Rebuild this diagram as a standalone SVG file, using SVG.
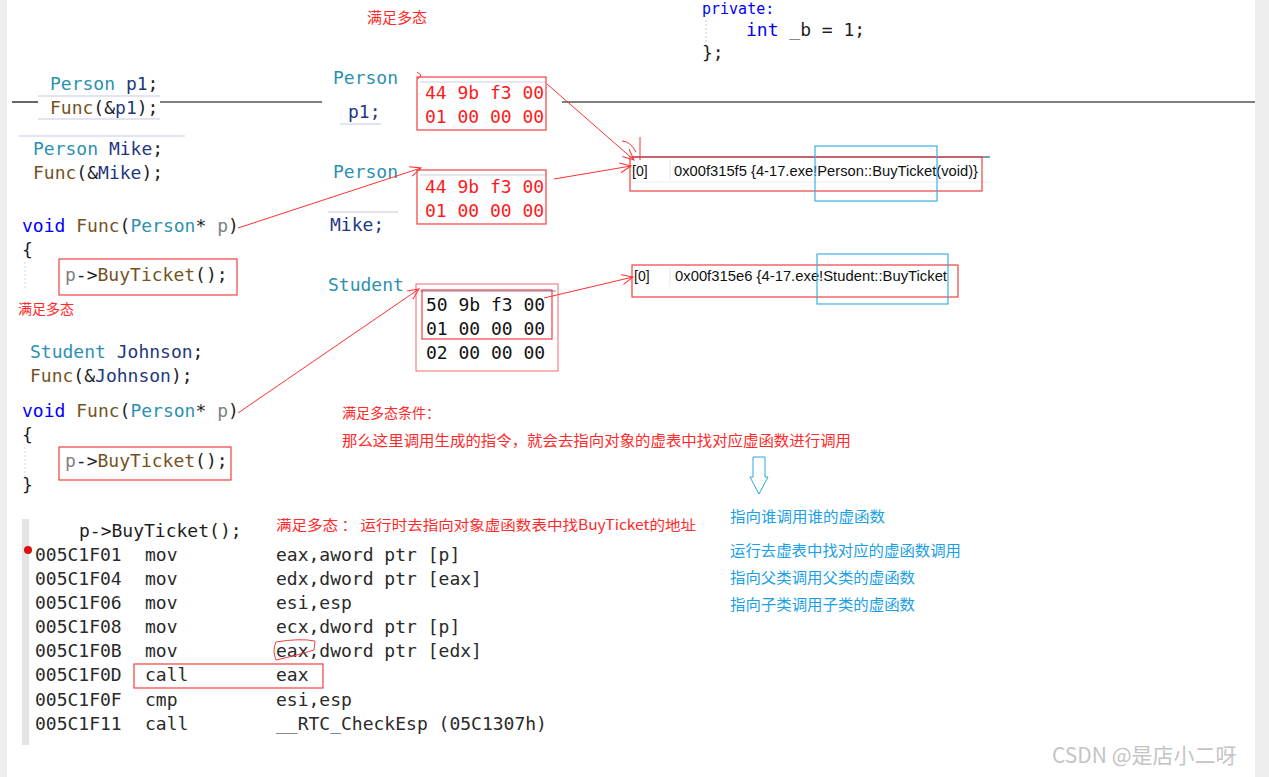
<svg xmlns="http://www.w3.org/2000/svg" width="1269" height="777" viewBox="0 0 1269 777">
<defs>
<style>
.code{font-family:"DejaVu Sans Mono","Liberation Mono",monospace;font-size:18px;fill:#1e1e1e}
.ty{fill:#2b91af}.var{fill:#1f377f}.fn{fill:#74531f}.kw{fill:#0000ff}.prm{fill:#808080}
.hex{font-family:"DejaVu Sans Mono","Liberation Mono",monospace;font-size:18px;fill:#ff1a1a}
.hexb{font-family:"DejaVu Sans Mono","Liberation Mono",monospace;font-size:18px;fill:#111}
.cn{font-family:"Noto Sans CJK SC","Noto Sans",sans-serif;font-size:14px;fill:#ff2a2a}
.cb{font-family:"Noto Sans CJK SC","Noto Sans",sans-serif;font-size:15px;fill:#1aa0e6}
.vt{font-family:"Liberation Sans","Noto Sans",sans-serif;font-size:14px;fill:#111}
.rbox{fill:none;stroke:#f04040;stroke-width:1.2}
.bbox{fill:none;stroke:#3ab0e8;stroke-width:1.2}
.hl{stroke:#e2e4f0;stroke-width:2}
.arr{fill:none;stroke:#ff3030;stroke-width:1;marker-end:url(#ah)}
</style>
<marker id="ah" viewBox="0 0 12 12" refX="11" refY="6" markerWidth="12" markerHeight="12" markerUnits="userSpaceOnUse" orient="auto">
<path d="M0,1 L11,6 L0,11" fill="none" stroke="#ff3030" stroke-width="1"/>
</marker>
</defs>
<rect width="1269" height="777" fill="#ffffff"/>
<rect x="0" y="0" width="7" height="777" fill="#eeeeee"/>
<rect x="1255" y="0" width="14" height="777" fill="#eeeeee"/>

<g id="separator">
<line x1="12" y1="102" x2="38" y2="102" stroke="#000" stroke-width="1.2"/>
<line x1="160" y1="102" x2="322" y2="102" stroke="#000" stroke-width="1.2"/>
<line x1="562" y1="102" x2="1255" y2="102" stroke="#000" stroke-width="1.2"/>
</g>

<g id="class-tail">
<text class="code kw" x="702" y="14" style="font-size:15px">private:</text>
<line x1="706" y1="20" x2="706" y2="48" stroke="#d0d0d0" stroke-dasharray="2,2"/>
<text class="code" x="746" y="36"><tspan class="kw">int</tspan> _b = 1;</text>
<text class="code" x="702" y="59">};</text>
</g>

<g id="label-top"><text class="cn" x="367" y="23" style="font-size:15px">满足多态</text></g>

<g id="code-p1">
<line class="hl" x1="38" y1="96" x2="160" y2="96"/>
<line class="hl" x1="38" y1="119" x2="160" y2="119"/>
<text class="code" x="50" y="90"><tspan class="ty">Person</tspan> <tspan class="var">p1</tspan>;</text>
<text class="code" x="50" y="114"><tspan class="fn">Func</tspan>(&amp;<tspan class="var">p1</tspan>);</text>
</g>

<g id="code-mike">
<line class="hl" x1="19" y1="136" x2="185" y2="136"/>
<text class="code" x="33" y="155"><tspan class="ty">Person</tspan> <tspan class="var">Mike</tspan>;</text>
<text class="code" x="33" y="179"><tspan class="fn">Func</tspan>(&amp;<tspan class="var">Mike</tspan>);</text>
</g>

<g id="func1">
<text class="code" x="22" y="232"><tspan class="kw">void</tspan> <tspan class="fn">Func</tspan>(<tspan class="ty">Person</tspan>* <tspan class="prm">p</tspan>)</text>
<text class="code" x="22" y="256">{</text>
<line x1="25" y1="262" x2="25" y2="290" stroke="#d8d8d8" stroke-dasharray="2,2"/>
<rect class="rbox" x="59" y="259" width="178" height="36"/>
<text class="code" x="65" y="281"><tspan class="prm">p</tspan>-&gt;<tspan class="fn">BuyTicket</tspan>();</text>
</g>
<g id="label-left"><text class="cn" x="18" y="314">满足多态</text></g>

<g id="code-johnson">
<text class="code" x="30" y="358"><tspan class="ty">Student</tspan> <tspan class="var">Johnson</tspan>;</text>
<text class="code" x="30" y="382"><tspan class="fn">Func</tspan>(&amp;<tspan class="var">Johnson</tspan>);</text>
</g>

<g id="func2">
<text class="code" x="22" y="417"><tspan class="kw">void</tspan> <tspan class="fn">Func</tspan>(<tspan class="ty">Person</tspan>* <tspan class="prm">p</tspan>)</text>
<text class="code" x="22" y="441">{</text>
<line x1="25" y1="447" x2="25" y2="478" stroke="#d8d8d8" stroke-dasharray="2,2"/>
<rect class="rbox" x="59" y="447" width="172" height="33"/>
<text class="code" x="65" y="467"><tspan class="prm">p</tspan>-&gt;<tspan class="fn">BuyTicket</tspan>();</text>
<text class="code" x="22" y="491">}</text>
</g>

<g id="obj-p1">
<text class="code ty" x="333" y="84">Person</text>
<line class="hl" x1="340" y1="124" x2="381" y2="124"/>
<text class="code var" x="348" y="118">p1;</text>
<line x1="420" y1="82" x2="546" y2="82" stroke="#dde0ee" stroke-width="1.5"/>
<rect class="rbox" x="417" y="77" width="129" height="53"/>
<text class="hex" x="425" y="99">44 9b f3 00</text>
<text class="hex" x="425" y="123">01 00 00 00</text>
</g>

<g id="obj-mike">
<text class="code ty" x="333" y="178">Person</text>
<line class="hl" x1="328" y1="212" x2="398" y2="212"/>
<text class="code var" x="330" y="231">Mike;</text>
<line x1="420" y1="175" x2="546" y2="175" stroke="#dde0ee" stroke-width="1.5"/>
<rect class="rbox" x="417" y="170" width="129" height="54"/>
<text class="hex" x="425" y="193">44 9b f3 00</text>
<text class="hex" x="425" y="217">01 00 00 00</text>
</g>

<g id="obj-johnson">
<text class="code ty" x="328" y="291">Student</text>
<line x1="420" y1="291" x2="556" y2="291" stroke="#b8c4dc" stroke-width="2"/>
<rect x="416" y="284" width="142" height="87" fill="none" stroke="#f06a6a" stroke-width="1"/>
<rect class="rbox" x="422" y="290" width="130" height="49"/>
<text class="hexb" x="426" y="311">50 9b f3 00</text>
<text class="hexb" x="426" y="335">01 00 00 00</text>
<text class="hexb" x="426" y="359">02 00 00 00</text>
</g>

<g id="vtable-person">
<line x1="632" y1="157" x2="990" y2="157" stroke="#5a7aa0" stroke-width="1.5"/>
<line x1="670" y1="160" x2="670" y2="181" stroke="#e8e8e8"/>
<line x1="632" y1="182" x2="990" y2="182" stroke="#eeeeee"/>
<text class="vt" x="632" y="176">[0]</text>
<text class="vt" x="674" y="176" textLength="304" lengthAdjust="spacingAndGlyphs">0x00f315f5 {4-17.exe!Person::BuyTicket(void)}</text>
<rect class="rbox" x="630" y="157" width="352" height="34"/>
<rect class="bbox" x="815" y="146" width="122" height="55"/>
</g>

<g id="vtable-student">
<line x1="670" y1="268" x2="670" y2="287" stroke="#e8e8e8"/>
<text class="vt" x="634" y="281">[0]</text>
<text class="vt" x="675" y="281" textLength="272" lengthAdjust="spacingAndGlyphs">0x00f315e6 {4-17.exe!Student::BuyTicket</text>
<rect class="rbox" x="632" y="265" width="326" height="32"/>
<rect class="bbox" x="817" y="254" width="131" height="50"/>
</g>

<g id="note-condition">
<text class="cn" x="342" y="418">满足多态条件：</text>
<text class="cn" x="342" y="446" style="font-size:15px" textLength="509" lengthAdjust="spacingAndGlyphs">那么这里调用生成的指令，就会去指向对象的虚表中找对应虚函数进行调用</text>
</g>

<g id="hollow-arrow">
<path d="M753,457 L765,457 L765,477 L768,477 L759,494 L750,477 L753,477 Z" fill="#ffffff" stroke="#29a8e0" stroke-width="1"/>
</g>

<g id="note-blue">
<text class="cb" x="730" y="522" textLength="155" lengthAdjust="spacingAndGlyphs">指向谁调用谁的虚函数</text>
<text class="cb" x="730" y="556" textLength="231" lengthAdjust="spacingAndGlyphs">运行去虚表中找对应的虚函数调用</text>
<text class="cb" x="730" y="583" textLength="185" lengthAdjust="spacingAndGlyphs">指向父类调用父类的虚函数</text>
<text class="cb" x="730" y="610" textLength="185" lengthAdjust="spacingAndGlyphs">指向子类调用子类的虚函数</text>
</g>

<g id="asm">
<rect x="22" y="519" width="7" height="226" fill="#e4e4e4"/>
<circle cx="28" cy="550" r="4" fill="#e01010"/>
<text class="code" x="79" y="537">p-&gt;BuyTicket();</text>
<text class="cn" x="276" y="530" textLength="420" lengthAdjust="spacingAndGlyphs">满足多态 ： 运行时去指向对象虚函数表中找BuyTicket的地址</text>
<g class="code" style="fill:#2a2a2a">
<text x="35" y="561">005C1F01</text><text x="145" y="561">mov</text><text x="276" y="561">eax,aword ptr [p]</text>
<text x="35" y="585">005C1F04</text><text x="145" y="585">mov</text><text x="276" y="585">edx,dword ptr [eax]</text>
<text x="35" y="609">005C1F06</text><text x="145" y="609">mov</text><text x="276" y="609">esi,esp</text>
<text x="35" y="633">005C1F08</text><text x="145" y="633">mov</text><text x="276" y="633">ecx,dword ptr [p]</text>
<text x="35" y="657">005C1F0B</text><text x="145" y="657">mov</text><text x="276" y="657">eax,dword ptr [edx]</text>
<text x="35" y="681">005C1F0D</text><text x="145" y="681">call</text><text x="276" y="681">eax</text>
<text x="35" y="706">005C1F0F</text><text x="145" y="706">cmp</text><text x="276" y="706">esi,esp</text>
<text x="35" y="730">005C1F11</text><text x="145" y="730">call</text><text x="276" y="730">__RTC_CheckEsp (05C1307h)</text>
</g>
<rect class="rbox" x="134" y="664" width="189" height="24"/>
<path d="M276,642 Q300,638 315,641 L314,650 Q295,656 276,660 Q272,650 276,642" fill="none" stroke="#f04040" stroke-width="1"/>
</g>

<g id="connectors">
<line class="arr" x1="238" y1="228" x2="421" y2="168"/>
<line class="arr" x1="554" y1="179" x2="631" y2="166"/>
<line class="arr" x1="547" y1="84" x2="634" y2="160"/>
<line class="arr" x1="238" y1="413" x2="419" y2="289"/>
<line class="arr" x1="544" y1="298" x2="633" y2="277"/>
<line x1="640" y1="137" x2="640" y2="160" stroke="#ff3030" stroke-width="1"/>
<path d="M622,141 Q630,141 636,152" fill="none" stroke="#ff3030" stroke-width="1"/>
<path d="M417,72 L421,75 L418,79" fill="none" stroke="#ff3030" stroke-width="1"/>
</g>

<g id="watermark">
<text x="1052" y="763" style="font-family:'Noto Sans CJK SC','Noto Sans',sans-serif;font-size:21px;fill:#c4c4c4">CSDN @是店小二呀</text>
</g>
</svg>
